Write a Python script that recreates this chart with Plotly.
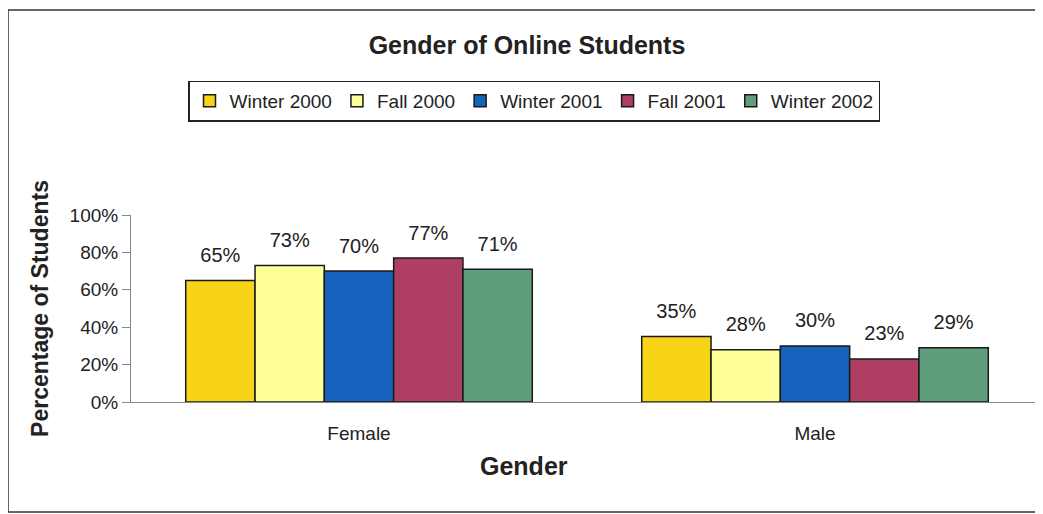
import plotly.graph_objects as go

genders = ["Female", "Male"]
terms = ["Winter 2000", "Fall 2000", "Winter 2001", "Fall 2001", "Winter 2002"]
winter_2000 = [65, 35]
fall_2000 = [73, 28]
winter_2001 = [70, 30]
fall_2001 = [77, 23]
winter_2002 = [71, 29]
y_ticks = [0, 20, 40, 60, 80, 100]

series = [winter_2000, fall_2000, winter_2001, fall_2001, winter_2002]
colors = ["#F7D417", "#FFFF99", "#1563BD", "#AE3F62", "#5E9E7C"]

# page body has an 8px margin, so figure coords = reference coords - 8
W, H = 1035, 506
L, T, B = 123, 207, 112
PW, PH = W - L, H - T - B

fig = go.Figure()
for name, vals, col in zip(terms, series, colors):
    fig.add_trace(go.Bar(
        x=genders, y=vals, name=name,
        marker=dict(color=col, line=dict(color="#1a1a1a", width=1.5)),
    ))
# value labels, grouped like the bars but lifted a bit above the bar tops
for name, vals in zip(terms, series):
    fig.add_trace(go.Scatter(
        x=genders, y=vals, mode="markers+text", showlegend=False, hoverinfo="skip",
        text=[f"{v}%" for v in vals], textposition="top center",
        marker=dict(size=20, opacity=0), cliponaxis=False,
        textfont=dict(size=20, color="#222"),
    ))

fig.update_layout(
    width=W, height=H,
    margin=dict(l=L, r=0, t=T, b=B, autoexpand=False),
    paper_bgcolor="white", plot_bgcolor="white",
    font=dict(family="Liberation Sans, Arial, sans-serif", color="#222"),
    barmode="group", bargap=0.24, bargroupgap=0,
    scattermode="group", scattergap=0.24,
    title=dict(text="<b>Gender of Online Students</b>", x=519 / W, y=1 - 37 / H,
               xanchor="center", yanchor="middle", font=dict(size=25, color="#222")),
    legend=dict(orientation="h", xref="container", yref="container",
                x=526 / W, y=1 - 93 / H, xanchor="center", yanchor="middle",
                bordercolor="#222", borderwidth=1.5, font=dict(size=19),
                itemwidth=30, tracegroupgap=0, traceorder="normal"),
    showlegend=True,
)
fig.update_xaxes(
    showline=True, linecolor="#888", linewidth=1, ticks="", ticklabelstandoff=14,
    tickfont=dict(size=19),
)
fig.update_yaxes(
    range=[0, 100], tickvals=y_ticks, ticktext=[f"{t}%" for t in y_ticks],
    showline=True, linecolor="#888", linewidth=1, ticks="outside", ticklen=8, tickcolor="#888",
    showgrid=False, zeroline=False, tickfont=dict(size=19),
    title=dict(text="<b>Percentage of Students</b>", font=dict(size=23), standoff=14),
)
# x axis title sits left of the plot centre in the original
fig.add_annotation(text="<b>Gender</b>", xref="paper", yref="paper",
                   x=(516 - L) / PW, y=(T + PH - 458) / PH,
                   xanchor="center", yanchor="middle", showarrow=False,
                   font=dict(size=25, color="#222"))
fig.add_shape(type="rect", xref="paper", yref="paper",
              x0=(0 - L) / PW, x1=(1033 - L) / PW,
              y0=(T + PH - 504) / PH, y1=(T + PH - 2) / PH,
              line=dict(color="#333", width=1.5))

fig.write_html("out.html")
